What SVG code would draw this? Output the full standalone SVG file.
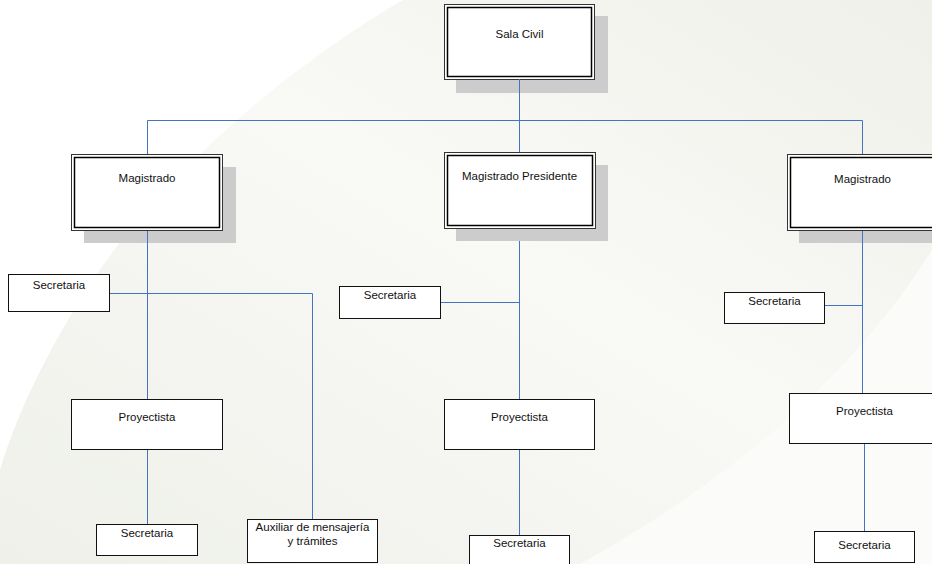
<svg xmlns="http://www.w3.org/2000/svg" width="932" height="564" viewBox="0 0 932 564">
<defs>
<linearGradient id="bg" x1="1" y1="0" x2="0" y2="1">
<stop offset="0" stop-color="#eff0e9"/>
<stop offset="0.45" stop-color="#f9f9f6"/>
<stop offset="1" stop-color="#eef0e9"/>
</linearGradient>
<style>
text{font-family:"Liberation Sans",Arial,sans-serif;font-size:11.5px;fill:#111;text-anchor:middle}
.shadow{fill:#cccccc}
.outer{fill:#fff;stroke:#333;stroke-width:1}
.inner{fill:none;stroke:#000;stroke-width:1.5}
.box{fill:#fff;stroke:#111;stroke-width:1}
.conn{fill:none;stroke:#4472c4;stroke-width:1}
</style>
</defs>
<rect width="932" height="564" fill="url(#bg)"/>
<path d="M0,0 L403,0 C300,60 160,170 80,300 C40,365 15,420 0,470 Z" fill="#ffffff"/>
<path d="M932,250 C850,380 730,480 580,564 L932,564 Z" fill="#fbfbf9"/>

<g id="sala-civil">
<rect class="shadow" x="456" y="16" width="152" height="77"/>
<rect class="outer" x="444.5" y="4.5" width="150" height="75"/>
<rect class="inner" x="447.5" y="7.5" width="144" height="69"/>
<text x="519.5" y="38">Sala Civil</text>
</g>
<g id="magistrado-izq">
<rect class="shadow" x="84" y="167" width="152" height="76"/>
<rect class="outer" x="71.5" y="154.5" width="151" height="76"/>
<rect class="inner" x="74.5" y="157.5" width="145" height="70"/>
<text x="147" y="182">Magistrado</text>
</g>
<g id="magistrado-presidente">
<rect class="shadow" x="456" y="165" width="152" height="76"/>
<rect class="outer" x="444.5" y="152.5" width="151" height="76"/>
<rect class="inner" x="447.5" y="155.5" width="145" height="70"/>
<text x="519.5" y="179.5">Magistrado Presidente</text>
</g>
<g id="magistrado-der">
<rect class="shadow" x="799" y="167" width="152" height="76"/>
<rect class="outer" x="787.5" y="154.5" width="151" height="76"/>
<rect class="inner" x="790.5" y="157.5" width="145" height="70"/>
<text x="862.5" y="182.5">Magistrado</text>
</g>

<g id="secretaria-l1"><rect class="box" x="8.5" y="274.5" width="101" height="37"/><text x="59" y="289">Secretaria</text></g>
<g id="secretaria-m1"><rect class="box" x="339.5" y="286.5" width="101" height="32"/><text x="390" y="298.5">Secretaria</text></g>
<g id="secretaria-r1"><rect class="box" x="724.5" y="292.5" width="100" height="31"/><text x="774.5" y="305">Secretaria</text></g>
<g id="proyectista-l"><rect class="box" x="71.5" y="399.5" width="151" height="50"/><text x="147" y="421">Proyectista</text></g>
<g id="proyectista-m"><rect class="box" x="444.5" y="399.5" width="150" height="50"/><text x="519.5" y="421">Proyectista</text></g>
<g id="proyectista-r"><rect class="box" x="789.5" y="393.5" width="151" height="50"/><text x="864.5" y="415">Proyectista</text></g>
<g id="secretaria-l2"><rect class="box" x="96.5" y="524.5" width="101" height="31"/><text x="147" y="537">Secretaria</text></g>
<g id="auxiliar"><rect class="box" x="247.5" y="519.5" width="130" height="43"/><text x="312.5" y="531">Auxiliar de mensajería</text><text x="312.5" y="545">y trámites</text></g>
<g id="secretaria-m2"><rect class="box" x="469.5" y="535.5" width="100" height="35"/><text x="519.5" y="547">Secretaria</text></g>
<g id="secretaria-r2"><rect class="box" x="814.5" y="531.5" width="100" height="31"/><text x="864.5" y="549">Secretaria</text></g>

<g id="connectors">
<path class="conn" d="M519.5,79 V120.5"/>
<path class="conn" d="M147.5,120.5 H862.5"/>
<path class="conn" d="M147.5,120.5 V154"/>
<path class="conn" d="M519.5,120.5 V152"/>
<path class="conn" d="M862.5,120.5 V154"/>
<path class="conn" d="M147.5,231 V399"/>
<path class="conn" d="M147.5,450 V524"/>
<path class="conn" d="M110,293.5 H312.5 V519"/>
<path class="conn" d="M519.5,241 V399"/>
<path class="conn" d="M441,302.5 H519.5"/>
<path class="conn" d="M519.5,450 V535"/>
<path class="conn" d="M862.5,231 V393"/>
<path class="conn" d="M825,305.5 H862.5"/>
<path class="conn" d="M864.5,444 V531"/>
</g>
</svg>
